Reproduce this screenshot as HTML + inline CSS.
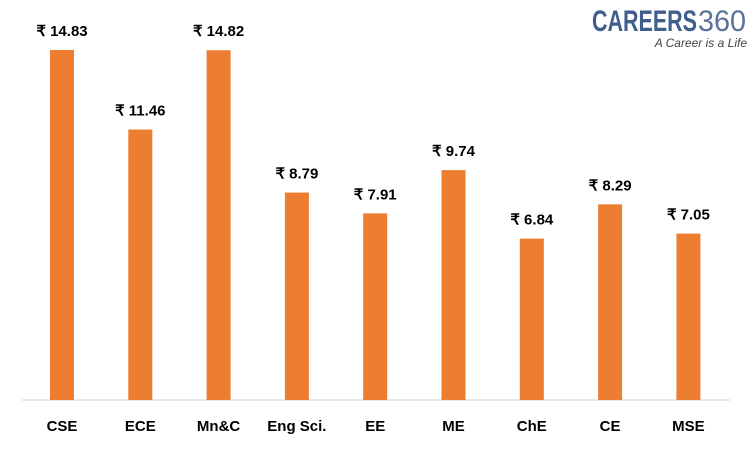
<!DOCTYPE html>
<html><head><meta charset="utf-8"><style>
body{margin:0;background:#fff;}
svg{display:block;font-family:"Liberation Sans",sans-serif;}
</style></head><body>
<svg id="chart" width="750" height="450">
<g>
<text x="592" y="31" font-size="30" font-weight="bold" fill="#3f5e8c" textLength="105" lengthAdjust="spacingAndGlyphs">CAREERS</text>
<text x="698" y="31" font-size="30" fill="#5a7199" textLength="48" lengthAdjust="spacingAndGlyphs">360</text>
<text x="747" y="47" font-size="12" font-style="italic" fill="#444" text-anchor="end">A Career is a Life</text>
</g>
<line x1="22" y1="400" x2="730" y2="400" stroke="#d9d9d9" stroke-width="1.2"/>
<g id="bars"></g>
</svg>
<script>
const categories=["CSE","ECE","Mn&C","Eng Sci.","EE","ME","ChE","CE","MSE"];
const values=[14.83,11.46,14.82,8.79,7.91,9.74,6.84,8.29,7.05];
const valueLabels=["₹ 14.83","₹ 11.46","₹ 14.82","₹ 8.79","₹ 7.91","₹ 9.74","₹ 6.84","₹ 8.29","₹ 7.05"];
const ns="http://www.w3.org/2000/svg";
const g=document.getElementById("bars");
const x0=62,step=78.3,bw=24,base=400,k=350/14.83;
const xs=i=>x0+i*step;
const ys=v=>base-v*k;
categories.forEach((c,i)=>{
  const r=document.createElementNS(ns,"rect");
  r.setAttribute("x",xs(i)-bw/2);r.setAttribute("y",ys(values[i]));
  r.setAttribute("width",bw);r.setAttribute("height",base-ys(values[i]));
  r.setAttribute("fill","#ed7d31");
  
  
  g.appendChild(r);
  const t=document.createElementNS(ns,"text");
  t.setAttribute("x",xs(i));t.setAttribute("y",ys(values[i])-14);
  t.setAttribute("text-anchor","middle");t.setAttribute("font-size","15");
  t.setAttribute("font-weight","bold");t.setAttribute("fill","#000");
  t.textContent=valueLabels[i];
  
  
  g.appendChild(t);
  const l=document.createElementNS(ns,"text");
  l.setAttribute("x",xs(i));l.setAttribute("y",431);
  l.setAttribute("text-anchor","middle");l.setAttribute("font-size","15");
  l.setAttribute("font-weight","bold");l.setAttribute("fill","#000");
  l.textContent=c;
  
  
  g.appendChild(l);
});
</script>
</body></html>
